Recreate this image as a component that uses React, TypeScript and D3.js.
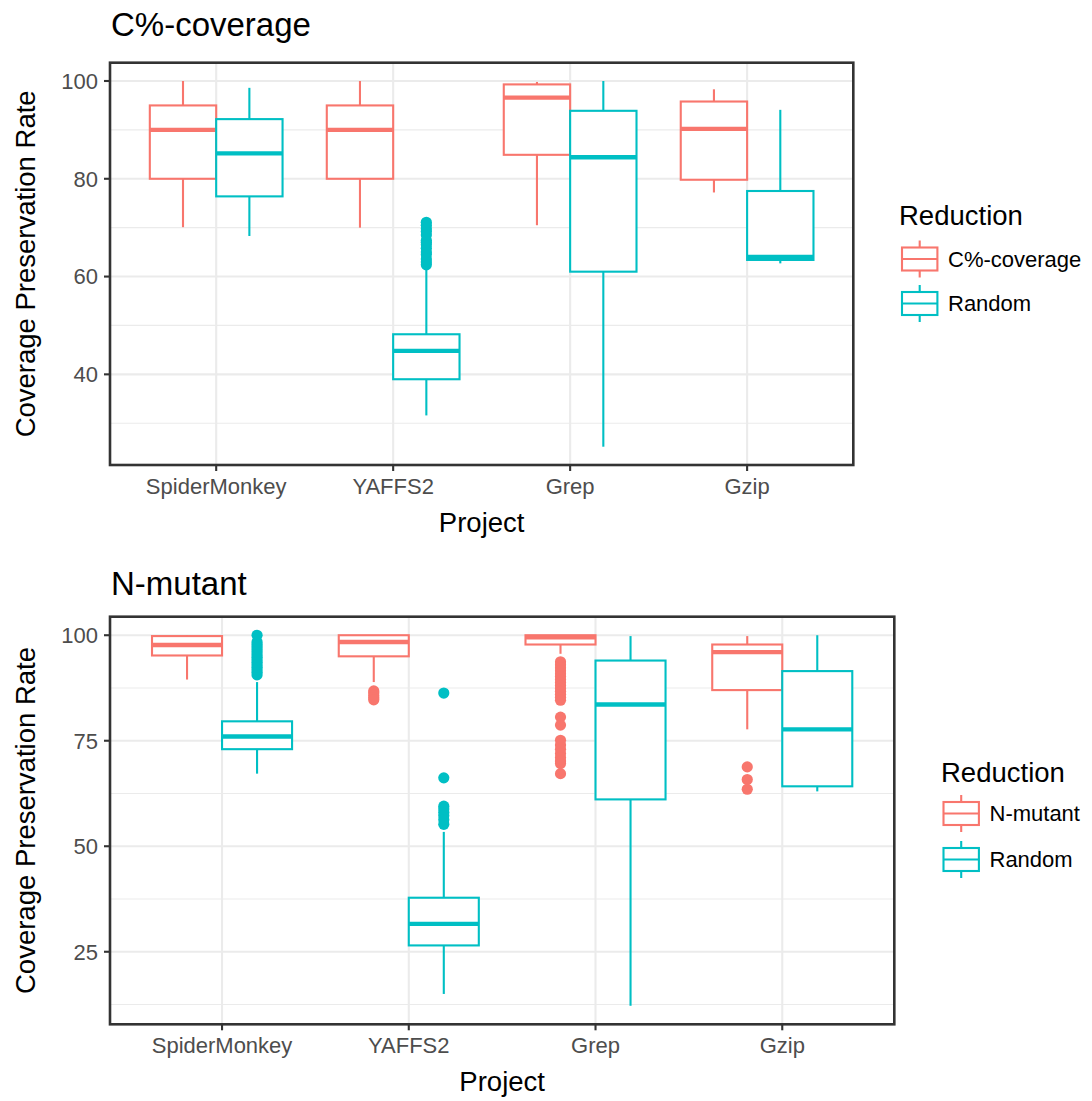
import React from 'react';
import * as d3 from 'd3';

const projects = ['SpiderMonkey', 'YAFFS2', 'Grep', 'Gzip'];
const colors = ['#F8766D', '#00BFC4'];

// each box: [lower whisker, Q1, median, Q3, upper whisker]
const covStats = [
  [70.1, 80, 90, 95, 100],
  [70, 80, 90, 95, 100],
  [70.5, 84.9, 96.6, 99.3, 99.8],
  [77.2, 79.8, 90.2, 95.8, 98.3],
];
const covOutliers = [[], [], [], []];
const covRandomStats = [
  [68.3, 76.4, 85.2, 92.2, 98.6],
  [31.6, 39.0, 44.8, 48.2, 61.9],
  [25.2, 61.0, 84.4, 93.9, 100],
  [62.7, 63.4, 64.0, 77.5, 94.1],
];
const covRandomOutliers = [
  [],
  [62.4, 63.0, 63.6, 64.5, 65.0, 65.8, 66.5, 67.0, 67.4, 68.5, 69.2, 69.8, 70.5, 71.1],
  [],
  [],
];
const covTicks = [40, 60, 80, 100];

const mutStats = [
  [89.5, 95.2, 97.7, 99.8, 100],
  [88.9, 95.0, 98.4, 100, 100],
  [95.6, 97.8, 99.5, 100, 100],
  [77.7, 87.0, 96.0, 97.8, 99.8],
];
const mutOutliers = [
  [],
  [86.8, 86.3, 85.7, 85.2, 84.7],
  [93.7, 93.0, 92.3, 91.6, 90.9, 90.2, 89.5, 88.8, 88.1, 87.4, 86.7, 86.0, 85.3, 84.6,
    80.6, 78.7, 75.1, 74.0, 73.0, 72.0, 71.0, 70.2, 69.6, 67.2],
  [68.8, 65.8, 63.5],
];
const mutRandomStats = [
  [67.2, 73.0, 76.0, 79.6, 88.9],
  [15.0, 26.5, 31.6, 37.8, 53.4],
  [12.2, 61.1, 83.6, 94.0, 99.8],
  [63.0, 64.2, 77.7, 91.5, 100],
];
const mutRandomOutliers = [
  [90.6, 91.2, 91.8, 92.4, 93.0, 93.6, 94.2, 94.8, 95.4, 96.0, 96.6, 97.2, 97.8, 98.4, 100],
  [86.3, 66.2, 59.5, 58.8, 58.0, 57.2, 56.3, 55.2],
  [],
  [],
];
const mutTicks = [25, 50, 75, 100];

const font = '"Liberation Sans", Arial, Helvetica, sans-serif';

type Box = { left: number; right: number; top: number; bottom: number };
type Legend = { titleX: number; titleY: number; keyX: number; rows: number[]; labelX: number };

function Panel({ title, titleY, labels, stats, outliers, ticks, box, legend }: {
  title: string; titleY: number; labels: string[]; stats: number[][][]; outliers: number[][][];
  ticks: number[]; box: Box; legend: Legend;
}) {
  const x = d3.scalePoint<string>().domain(projects).range([box.left, box.right]).padding(0.6);
  const step = x.step();
  const all = [...stats.flat(2), ...outliers.flat(2)];
  const [lo, hi] = d3.extent(all) as [number, number];
  const pad = (hi - lo) * 0.05;
  const y = d3.scaleLinear().domain([lo - pad, hi + pad]).range([box.bottom, box.top]);
  const tstep = ticks[1] - ticks[0];
  const minor = [ticks[0] - tstep / 2, ...ticks.map(t => t + tstep / 2)]
    .filter(v => v > y.domain()[0] && v < y.domain()[1]);
  const w = 0.375 * step;
  const cx = (p: string, g: number) => (x(p) as number) + (g === 0 ? -0.1875 : 0.1875) * step;
  const midY = (box.top + box.bottom) / 2;
  const midX = (box.left + box.right) / 2;

  return (
    <g fontFamily={font}>
      <text x={box.left + 1} y={titleY} fontSize={33} fill="#000">{title}</text>
      {minor.map(v => (
        <line key={'mn' + v} x1={box.left} x2={box.right} y1={y(v)} y2={y(v)} stroke="#EBEBEB" strokeWidth={1.2} />
      ))}
      {ticks.map(v => (
        <line key={'mj' + v} x1={box.left} x2={box.right} y1={y(v)} y2={y(v)} stroke="#EBEBEB" strokeWidth={2.1} />
      ))}
      {projects.map(p => (
        <line key={'vx' + p} x1={x(p)} x2={x(p)} y1={box.top} y2={box.bottom} stroke="#EBEBEB" strokeWidth={2.1} />
      ))}
      {[0, 1].map(g => projects.map((p, i) => {
        const s = stats[g][i];
        const c = cx(p, g);
        return (
          <g key={'b' + g + p} stroke={colors[g]}>
            <line x1={c} x2={c} y1={y(s[3])} y2={y(s[4])} strokeWidth={2.1} />
            <line x1={c} x2={c} y1={y(s[1])} y2={y(s[0])} strokeWidth={2.1} />
            <rect x={c - w / 2} y={y(s[3])} width={w} height={y(s[1]) - y(s[3])} fill="#fff" strokeWidth={2.1} />
            <line x1={c - w / 2} x2={c + w / 2} y1={y(s[2])} y2={y(s[2])} strokeWidth={4.4} />
            {outliers[g][i].map((v, j) => (
              <circle key={j} cx={c} cy={y(v)} r={5.6} fill={colors[g]} stroke="none" />
            ))}
          </g>
        );
      }))}
      <rect x={box.left} y={box.top} width={box.right - box.left} height={box.bottom - box.top}
        fill="none" stroke="#333333" strokeWidth={2.6} />
      {ticks.map(v => (
        <g key={'yt' + v}>
          <line x1={box.left - 6} x2={box.left} y1={y(v)} y2={y(v)} stroke="#333333" strokeWidth={2.1} />
          <text x={box.left - 12} y={y(v)} dy="0.36em" textAnchor="end" fontSize={22} fill="#4D4D4D">{v}</text>
        </g>
      ))}
      {projects.map(p => (
        <g key={'xt' + p}>
          <line x1={x(p)} x2={x(p)} y1={box.bottom} y2={box.bottom + 6} stroke="#333333" strokeWidth={2.1} />
          <text x={x(p)} y={box.bottom + 29} textAnchor="middle" fontSize={22} fill="#4D4D4D">{p}</text>
        </g>
      ))}
      <text x={midX} y={box.bottom + 67} textAnchor="middle" fontSize={27.5} fill="#000">Project</text>
      <text transform={`translate(35,${midY}) rotate(-90)`} textAnchor="middle" fontSize={27.5} fill="#000">
        Coverage Preservation Rate
      </text>
      <text x={legend.titleX} y={legend.titleY} fontSize={27.5} fill="#000">Reduction</text>
      {legend.rows.map((ry, g) => {
        const kc = legend.keyX + 17.7;
        return (
          <g key={'lg' + g}>
            <g stroke={colors[g]} strokeWidth={2.1}>
              <line x1={kc} x2={kc} y1={ry - 18.5} y2={ry + 18.5} />
              <rect x={legend.keyX} y={ry - 11.5} width={35.4} height={23} fill="#fff" />
              <line x1={legend.keyX} x2={legend.keyX + 35.4} y1={ry} y2={ry} />
            </g>
            <text x={legend.labelX} y={ry} dy="0.36em" fontSize={22} fill="#000">{labels[g]}</text>
          </g>
        );
      })}
    </g>
  );
}

export default function App() {
  return (
    <div style={{ position: 'absolute', left: 0, top: 0 }}>
      <svg width={1092} height={1101} style={{ display: 'block', background: '#fff' }}>
        <Panel
          title="C%-coverage"
          titleY={36}
          labels={['C%-coverage', 'Random']}
          stats={[covStats, covRandomStats]}
          outliers={[covOutliers, covRandomOutliers]}
          ticks={covTicks}
          box={{ left: 110, right: 853.3, top: 62.7, bottom: 465 }}
          legend={{ titleX: 899, titleY: 225, keyX: 902, rows: [259, 303.5], labelX: 948 }}
        />
        <Panel
          title="N-mutant"
          titleY={595}
          labels={['N-mutant', 'Random']}
          stats={[mutStats, mutRandomStats]}
          outliers={[mutOutliers, mutRandomOutliers]}
          ticks={mutTicks}
          box={{ left: 110, right: 894.3, top: 616.7, bottom: 1024.3 }}
          legend={{ titleX: 941, titleY: 782, keyX: 943.5, rows: [813.5, 859.5], labelX: 989.5 }}
        />
      </svg>
    </div>
  );
}
